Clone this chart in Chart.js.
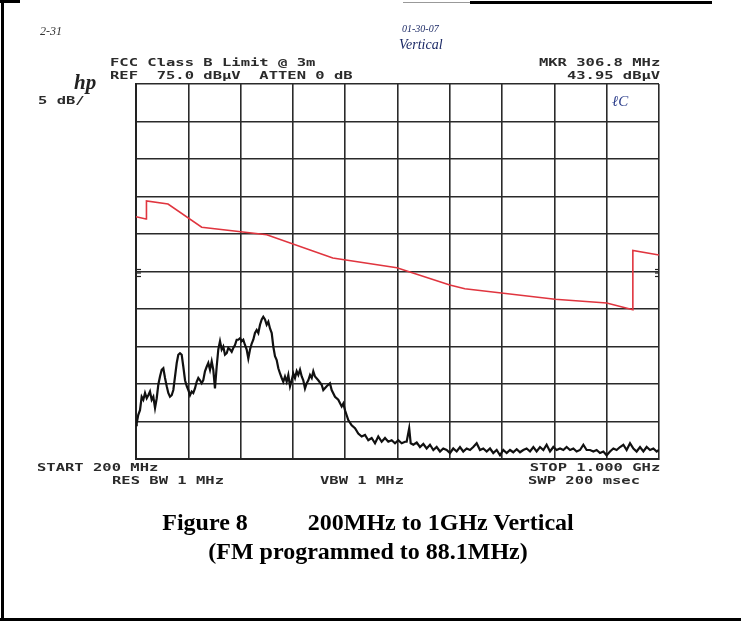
<!DOCTYPE html>
<html>
<head>
<meta charset="utf-8">
<script src="https://cdn.jsdelivr.net/npm/chart.js@4.4.1/dist/chart.umd.min.js"></script>
<style>
  html, body { margin: 0; padding: 0; background: #fff; }
  #wrap { position: relative; width: 741px; height: 625px; overflow: hidden; background: #fff; }
  #c { position: absolute; left: 0; top: 0; }
  .t { position: absolute; white-space: pre; line-height: 1; }
  .sa { font-family: 'DejaVu Sans Mono', monospace; font-weight: bold; font-size: 10px; color: #2b2b2b; }
  .l { transform: scaleX(1.55); transform-origin: left center; }
  .r { transform: scaleX(1.55); transform-origin: right center; text-align: right; }
  .hand { font-family: 'Liberation Serif', serif; font-style: italic; color: #1c2a66; }
  .cap { font-family: 'Liberation Serif', 'Times New Roman', serif; font-weight: bold; font-size: 24px; color: #000; left: 0; width: 736px; text-align: center; }
  .bar { position: absolute; background: #000; }
</style>
</head>
<body>
<div id="wrap">
  <canvas id="c" width="741" height="625"></canvas>

  <div class="bar" style="left:1px;top:0;width:3px;height:621px;"></div>
  <div class="bar" style="left:0;top:618px;width:741px;height:3px;"></div>
  <div class="bar" style="left:0;top:0;width:20px;height:3px;"></div>
  <div class="bar" style="left:470px;top:1px;width:242px;height:3px;"></div>
  <div class="bar" style="left:403px;top:2px;width:67px;height:1px;background:#999;"></div>

  <div class="t hand" style="left:40px;top:25px;font-size:12px;color:#333;">2-31</div>
  <div class="t hand" style="left:402px;top:24px;font-size:10px;">01-30-07</div>
  <div class="t hand" style="left:399px;top:38px;font-size:14px;">Vertical</div>
  <div class="t hand" style="left:612px;top:94px;font-size:15px;color:#2a3c8a;">ℓC</div>

  <div class="t sa l" style="left:110px;top:58px;">FCC Class B Limit @ 3m</div>
  <div class="t sa l" style="left:110px;top:71px;">REF  75.0 dBµV  ATTEN 0 dB</div>
  <div class="t" style="left:74px;top:72px;font-family:'Liberation Serif',serif;font-style:italic;font-weight:bold;font-size:21px;color:#222;">hp</div>
  <div class="t sa l" style="left:38px;top:96px;">5 dB/</div>
  <div class="t sa r" style="right:81px;top:58px;">MKR 306.8 MHz</div>
  <div class="t sa r" style="right:81px;top:71px;">43.95 dBµV</div>

  <div class="t sa l" style="left:37px;top:463px;">START 200 MHz</div>
  <div class="t sa r" style="right:81px;top:463px;">STOP 1.000 GHz</div>
  <div class="t sa l" style="left:112px;top:476px;">RES BW 1 MHz</div>
  <div class="t sa l" style="left:320px;top:476px;">VBW 1 MHz</div>
  <div class="t sa l" style="left:528px;top:476px;">SWP 200 msec</div>

  <div class="t cap" style="top:510px;">Figure 8          200MHz to 1GHz Vertical</div>
  <div class="t cap" style="top:539px;">(FM programmed to 88.1MHz)</div>
</div>

<script>
// Analyzer display settings
const startMHz = 200;
const stopMHz = 1000;
const mhzPerDiv = 80;
const refLevelDbuv = 75;
const dbPerDiv = 5;
const bottomLevelDbuv = 25;

// Limit line (FCC Class B @ 3 m, corrected), frequency in MHz / level in dBuV
const limitFreqMHz = [200, 215.3, 216, 216, 249, 300.5, 400, 501, 599, 680, 703, 841, 920, 960, 960, 1000];
const limitDbuv    = [57.3, 57.0, 57.0, 59.4, 59.0, 55.9, 54.9, 51.8, 50.5, 48.2, 47.7, 46.3, 45.8, 44.9, 52.8, 52.2];

// Measured sweep trace
const traceFreqMHz = [
  200, 201.1, 203.5, 206.1, 208.7, 211.2, 213.8, 216.4, 218.8, 221.4, 224.0, 226.5, 229.1, 231.7, 234.1,
  236.7, 239.3, 241.8, 244.4, 247.0, 249.4, 252.0, 254.6, 257.1, 259.7, 262.3, 264.7, 267.3, 269.9, 272.4,
  275.0, 277.6, 280.0, 282.6, 285.2, 287.6, 290.2, 292.8, 295.3, 297.9, 300.5, 302.9, 305.5, 308.1, 310.6,
  313.2, 315.8, 318.2, 320.8, 323.4, 325.9, 328.5, 331.1, 333.5,
  336.1, 338.7, 341.2, 343.8, 346.4, 348.8, 351.4, 354.0, 356.5, 359.1, 361.7, 364.1, 366.7, 369.3, 371.8,
  374.4, 377.0, 379.4, 382.0, 384.6, 387.1, 389.7, 392.3, 394.7, 397.3, 399.9, 402.4, 405.0, 407.6, 410.0,
  412.6, 415.2, 417.7, 420.3, 422.9, 425.3, 427.9, 430.5, 433.0, 435.6, 438.2, 440.6, 443.2, 445.8, 448.3,
  450.9, 453.5, 455.9, 458.5, 461.1, 463.6, 466.2, 468.8, 471.2,
  473.8, 478.8, 484.0, 486.5, 491.7, 496.7, 499.3, 504.4, 509.4, 514.6, 517.1, 519.7, 524.7, 529.9, 535.0,
  540.0, 545.2, 550.3, 555.3, 560.5, 565.6, 570.6, 575.8, 580.9, 585.9, 591.1, 596.2, 601.2, 606.4, 611.5,
  614.0, 617.9, 620.2, 624.2, 629.4, 634.4, 639.5, 644.6, 649.7, 654.8, 659.9, 665.0, 670.0, 675.2, 680.3,
  685.3, 690.5, 695.6, 700.6, 705.8, 710.9, 715.9, 721.1, 726.2, 731.2, 736.4, 741.5, 746.5, 751.7, 756.8,
  761.8, 767.0, 772.1, 777.1, 782.3, 787.4, 792.4,
  797.5, 802.7, 807.8, 812.8, 818.0, 823.1, 828.1, 833.3, 838.4, 843.4, 848.6, 853.7, 858.7, 863.9, 869.0,
  874.0, 879.2, 884.3, 889.3, 894.5, 899.6, 904.6, 909.8, 914.9, 919.9, 925.1, 930.2, 935.2, 940.4, 945.5,
  950.5, 955.7, 960.8, 965.8, 971.0, 976.1, 981.1, 986.3, 991.4, 996.5, 1000
];
const traceDbuv = [
  29.5, 29.8, 30.9, 31.5, 33.3, 32.9, 33.8, 33.1, 33.5, 34.0, 32.9, 33.3, 31.8, 33.1, 34.9,
  36.0, 36.9, 37.1, 35.8, 34.7, 33.8, 33.3, 33.5, 34.2, 36.0, 37.8, 38.9, 39.1, 38.9, 37.3,
  35.5, 34.7, 34.2, 33.5, 34.0, 33.8, 34.4, 35.3, 35.8, 35.5, 35.1, 35.5, 36.7, 37.3, 37.8,
  36.9, 38.0, 36.9, 34.4, 37.3, 39.6, 40.7, 39.6, 40.0,
  38.9, 39.1, 39.8, 39.6, 39.3, 39.8, 40.2, 40.9, 40.9, 41.1, 40.7, 40.9, 40.2, 39.6, 38.4,
  39.6, 40.4, 40.9, 41.8, 42.2, 41.8, 42.9, 43.6, 43.95, 43.6, 42.9, 43.3, 42.4, 41.8, 40.0,
  38.7, 38.2, 37.1, 36.4, 35.8, 35.3, 36.0, 35.3, 36.2, 34.7, 35.5, 36.4, 35.8, 36.7, 36.2,
  36.9, 36.0, 35.5, 34.4, 35.1, 35.5, 36.2, 35.8, 36.7,
  36.0, 35.5, 34.9, 34.2, 34.7, 35.1, 34.2, 33.3, 32.9, 32.0, 32.4, 31.5, 30.2, 29.5, 29.1,
  28.4, 28.0, 28.2, 27.5, 27.8, 27.1, 28.0, 27.3, 27.8, 27.3, 27.5, 27.1, 27.5, 27.1, 27.3,
  27.3, 29.1, 27.1, 26.9, 27.2, 26.6, 27.0, 26.4, 26.9, 26.2, 26.6, 26.0, 26.4, 26.2, 25.8,
  26.4, 26.0, 26.6, 26.0, 26.4, 26.2, 26.6, 27.1, 26.2, 26.4, 26.0, 26.4, 25.8, 26.2, 25.5,
  26.2, 25.8, 26.2, 25.9, 26.3, 25.9, 26.2,
  26.4, 26.0, 26.6, 26.0, 26.6, 26.2, 26.9, 26.0, 26.6, 26.2, 26.4, 26.2, 26.6, 26.2, 26.4,
  26.0, 26.2, 26.9, 26.2, 26.2, 26.0, 26.2, 25.8, 26.0, 25.5, 26.0, 26.4, 26.2, 26.6, 26.9,
  26.2, 27.1, 26.4, 26.0, 26.6, 26.0, 26.6, 26.2, 26.4, 26.0, 26.2
];

const toPoints = (xs, ys) => xs.map((x, i) => ({ x: x, y: ys[i] }));

// Small "=" reference markers on both display edges at the 50 dBuV graticule line
const refMarkLevel = 50;
const refMarks = {
  id: 'refMarks',
  afterDatasetsDraw(chart) {
    const { ctx, chartArea: a, scales: { y } } = chart;
    const py = y.getPixelForValue(refMarkLevel);
    ctx.save();
    ctx.strokeStyle = '#222';
    ctx.lineWidth = 1.2;
    [-2, 1.5, 5].forEach(d => {
      ctx.beginPath(); ctx.moveTo(a.left, py + d); ctx.lineTo(a.left + 5, py + d); ctx.stroke();
      ctx.beginPath(); ctx.moveTo(a.right - 4, py + d); ctx.lineTo(a.right, py + d); ctx.stroke();
    });
    ctx.restore();
  }
};

const gridStyle = { color: '#2a2a2a', lineWidth: 1.6, drawTicks: false };
const borderStyle = { display: true, color: '#222', width: 2 };

new Chart(document.getElementById('c'), {
  type: 'line',
  data: {
    datasets: [
      {
        data: toPoints(limitFreqMHz, limitDbuv),
        borderColor: '#e0353f',
        borderWidth: 1.6,
        pointRadius: 0,
        tension: 0
      },
      {
        data: toPoints(traceFreqMHz, traceDbuv),
        borderColor: '#111',
        borderWidth: 2.2,
        pointRadius: 0,
        tension: 0
      }
    ]
  },
  options: {
    responsive: false,
    animation: false,
    devicePixelRatio: 1,
    layout: { padding: { left: 136, top: 84, right: 82, bottom: 166 } },
    plugins: { legend: { display: false }, tooltip: { enabled: false } },
    scales: {
      x: {
        type: 'linear', min: startMHz, max: stopMHz,
        ticks: { display: false, stepSize: mhzPerDiv },
        grid: gridStyle, border: borderStyle
      },
      y: {
        min: bottomLevelDbuv, max: refLevelDbuv,
        ticks: { display: false, stepSize: dbPerDiv },
        grid: gridStyle, border: borderStyle
      }
    }
  },
  plugins: [refMarks]
});
</script>
</body>
</html>
